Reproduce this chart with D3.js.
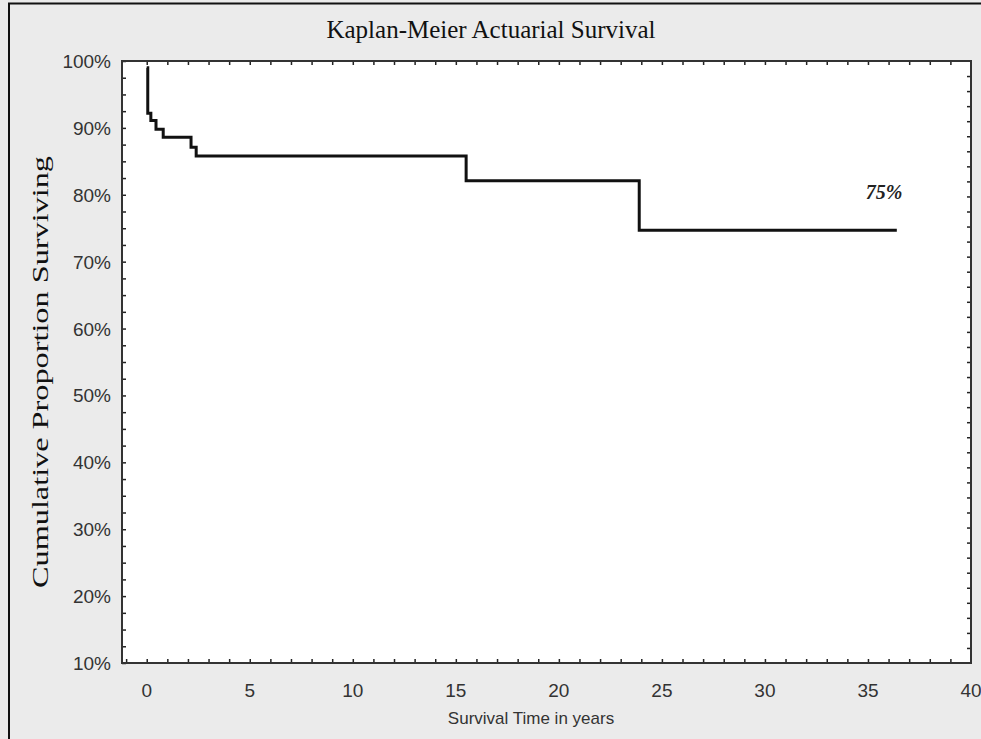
<!DOCTYPE html>
<html>
<head>
<meta charset="utf-8">
<script src="https://cdn.jsdelivr.net/npm/d3@7"></script>
<style>
  body { margin: 0; background: #ebebeb; }
  svg { display: block; }
</style>
</head>
<body>
<div id="chart"></div>
<script>
// survival steps (years, proportion surviving)
var stepTimes = [0, 0.05, 0.2, 0.45, 0.8, 2.15, 2.4, 15.5, 23.9, 36.4];
var stepSurvival = [0.99, 0.922, 0.911, 0.898, 0.886, 0.871, 0.858, 0.821, 0.747, 0.747];
var xTickLabels = [0, 5, 10, 15, 20, 25, 30, 35, 40];
var yTickLabels = [0.1, 0.2, 0.3, 0.4, 0.5, 0.6, 0.7, 0.8, 0.9, 1.0];
var endLabel = "75%";

var width = 981;
var height = 739;
// plot box (note: "top" is a reserved window property, so use other names)
var plotL = 122, plotR = 971, plotT = 61, plotB = 663;

var svg = d3.select("#chart")
    .append("svg")
    .attr("width", width)
    .attr("height", height);

// outer frame (only top and left visible)
svg.append("rect")
    .attr("x", 0).attr("y", 0)
    .attr("width", width).attr("height", height)
    .attr("fill", "#ebebeb");
svg.append("path")
    .attr("d", "M9," + height + "V3.5H" + width)
    .attr("fill", "none")
    .attr("stroke", "#111")
    .attr("stroke-width", 2);

var x = d3.scaleLinear().domain([-1.2, 40]).range([plotL, plotR]);
var y = d3.scaleLinear().domain([0.1, 1.0]).range([plotB, plotT]);
// right side has its own finer tick spacing
var yRight = d3.scaleLinear().domain([0, 40]).range([plotB, plotT]);

svg.append("rect")
    .attr("x", plotL).attr("y", plotT)
    .attr("width", plotR - plotL).attr("height", plotB - plotT)
    .attr("fill", "#fff");

// minor ticks, all pointing inward
var minorX = d3.range(-1, 40, 1);
var minorY = d3.range(0, 37).map(function(i) { return 0.1 + i * 0.025; });

svg.append("g")
    .attr("transform", "translate(0," + plotB + ")")
    .call(d3.axisTop(x).tickValues(minorX).tickSize(4).tickFormat(""))
    .call(function(g) { g.select(".domain").remove(); });
svg.append("g")
    .attr("transform", "translate(0," + plotT + ")")
    .call(d3.axisBottom(x).tickValues(d3.range(0, 40, 1)).tickSize(4).tickFormat(""))
    .call(function(g) { g.select(".domain").remove(); });
svg.append("g")
    .attr("transform", "translate(" + plotL + ",0)")
    .call(d3.axisRight(y).tickValues(minorY).tickSize(4).tickFormat(""))
    .call(function(g) { g.select(".domain").remove(); });
svg.append("g")
    .attr("transform", "translate(" + plotR + ",0)")
    .call(d3.axisLeft(yRight).tickValues(d3.range(1, 40, 1)).tickSize(4).tickFormat(""))
    .call(function(g) { g.select(".domain").remove(); });

svg.selectAll(".tick line").attr("stroke", "#222").attr("stroke-width", 1.5);

// plot frame
svg.append("rect")
    .attr("x", plotL).attr("y", plotT)
    .attr("width", plotR - plotL).attr("height", plotB - plotT)
    .attr("fill", "none")
    .attr("stroke", "#333")
    .attr("stroke-width", 2);

// tick labels
svg.append("g").selectAll("text")
    .data(xTickLabels)
    .enter().append("text")
    .attr("x", function(d) { return x(d); })
    .attr("y", 697)
    .attr("text-anchor", "middle")
    .attr("font-family", "Liberation Sans, Arial, sans-serif")
    .attr("font-size", 19)
    .attr("fill", "#333")
    .text(function(d) { return d; });

svg.append("g").selectAll("text")
    .data(yTickLabels)
    .enter().append("text")
    .attr("x", 111)
    .attr("y", function(d) { return y(d) + 7; })
    .attr("text-anchor", "end")
    .attr("font-family", "Liberation Sans, Arial, sans-serif")
    .attr("font-size", 19)
    .attr("fill", "#333")
    .text(d3.format(".0%"));

// survival curve
var pts = stepTimes.map(function(t, i) { return [t, stepSurvival[i]]; });
var line = d3.line()
    .x(function(d) { return x(d[0]); })
    .y(function(d) { return y(d[1]); })
    .curve(d3.curveStepAfter);

svg.append("path")
    .datum(pts)
    .attr("d", line)
    .attr("fill", "none")
    .attr("stroke", "#111")
    .attr("stroke-width", 3);

svg.append("text")
    .attr("x", 884)
    .attr("y", 199)
    .attr("text-anchor", "middle")
    .attr("font-family", "Liberation Serif, Times New Roman, serif")
    .attr("font-size", 20)
    .attr("font-weight", "bold")
    .attr("font-style", "italic")
    .attr("fill", "#222")
    .text(endLabel);

// titles
svg.append("text")
    .attr("x", 491)
    .attr("y", 38)
    .attr("text-anchor", "middle")
    .attr("font-family", "Liberation Serif, Times New Roman, serif")
    .attr("font-size", 25)
    .attr("fill", "#111")
    .text("Kaplan-Meier Actuarial Survival");

svg.append("text")
    .attr("transform", "translate(48,372) rotate(-90)")
    .attr("text-anchor", "middle")
    .attr("font-family", "Liberation Serif, Times New Roman, serif")
    .attr("font-size", 23)
    .attr("textLength", 432)
    .attr("lengthAdjust", "spacingAndGlyphs")
    .attr("fill", "#111")
    .text("Cumulative Proportion Surviving");

svg.append("text")
    .attr("x", 531)
    .attr("y", 724)
    .attr("text-anchor", "middle")
    .attr("font-family", "Liberation Sans, Arial, sans-serif")
    .attr("font-size", 17)
    .attr("fill", "#333")
    .text("Survival Time in years");
</script>
</body>
</html>
